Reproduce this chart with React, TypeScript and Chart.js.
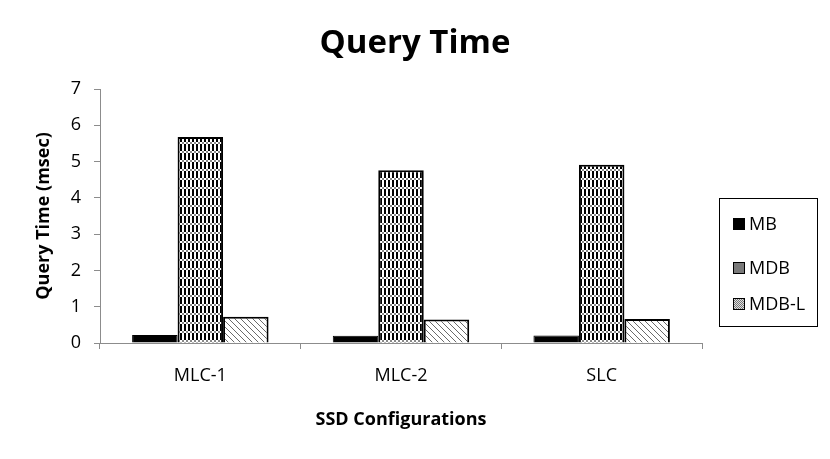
import { useEffect, useRef } from "react";
import { Chart, registerables } from "chart.js";
Chart.register(...registerables);

const categories = ["MLC-1", "MLC-2", "SLC"];
const seriesNames = ["MB", "MDB", "MDB-L"];
const mbValues = [0.22, 0.2, 0.21];
const mdbValues = [5.68, 4.76, 4.91];
const mdblValues = [0.72, 0.65, 0.66];
const yMin = 0;
const yMax = 7;
const yStep = 1;
const chartTitle = "Query Time";
const xTitle = "SSD Configurations";
const yTitle = "Query Time (msec)";

const FONT = "'Open Sans', 'DejaVu Sans', sans-serif";

function makeMdbPattern(ctx: CanvasRenderingContext2D) {
  const c = document.createElement("canvas");
  c.width = 4;
  c.height = 9;
  const g = c.getContext("2d")!;
  g.fillStyle = "#ffffff";
  g.fillRect(0, 0, 4, 9);
  g.fillStyle = "#000000";
  g.fillRect(0, 0, 2, 7);
  g.fillStyle = "#888888";
  g.fillRect(2, 7, 2, 2);
  return ctx.createPattern(c, "repeat")!;
}

function makeMdblPattern(ctx: CanvasRenderingContext2D) {
  const c = document.createElement("canvas");
  c.width = 6;
  c.height = 6;
  const g = c.getContext("2d")!;
  g.fillStyle = "#ffffff";
  g.fillRect(0, 0, 6, 6);
  g.strokeStyle = "#6a6a6a";
  g.lineWidth = 1;
  g.beginPath();
  g.moveTo(-1, -1);
  g.lineTo(7, 7);
  g.moveTo(-4, 2);
  g.lineTo(4, 10);
  g.moveTo(2, -4);
  g.lineTo(10, 4);
  g.stroke();
  return ctx.createPattern(c, "repeat")!;
}

function makeDotPattern(ctx: CanvasRenderingContext2D) {
  const c = document.createElement("canvas");
  c.width = 2;
  c.height = 2;
  const g = c.getContext("2d")!;
  g.fillStyle = "#e0e0e0";
  g.fillRect(0, 0, 2, 2);
  g.fillStyle = "#777777";
  g.fillRect(0, 0, 1, 1);
  g.fillRect(1, 1, 1, 1);
  return ctx.createPattern(c, "repeat")!;
}

export default function App() {
  const ref = useRef<HTMLCanvasElement | null>(null);

  useEffect(() => {
    const canvas = ref.current!;
    const ctx = canvas.getContext("2d")!;
    const mdbPat = makeMdbPattern(ctx);
    const mdblPat = makeMdblPattern(ctx);
    const dotPat = makeDotPattern(ctx);

    const decor = {
      id: "decor",
      afterDraw(chart: any) {
        const c = chart.ctx as CanvasRenderingContext2D;
        const area = chart.chartArea;
        c.save();
        // title
        c.fillStyle = "#000";
        c.font = `bold 33px ${FONT}`;
        c.textAlign = "center";
        c.textBaseline = "middle";
        c.fillText(chartTitle, 415, 44);
        // x title
        c.font = `bold 18px ${FONT}`;
        c.fillText(xTitle, (area.left + area.right) / 2, 420);
        // y title
        c.save();
        c.translate(44, (area.top + area.bottom) / 2);
        c.rotate(-Math.PI / 2);
        c.fillText(yTitle, 0, 0);
        c.restore();
        // legend
        const bx = 719, by = 198, bw = 98, bh = 128;
        c.strokeStyle = "#000";
        c.lineWidth = 1;
        c.strokeRect(bx + 0.5, by + 0.5, bw, bh);
        const ys = [224, 268, 304];
        const fills: any[] = ["#000000", "#7a7a7a", dotPat];
        c.font = `18px ${FONT}`;
        c.textAlign = "left";
        seriesNames.forEach((n, i) => {
          const y = ys[i];
          c.fillStyle = fills[i];
          c.fillRect(733, y - 6, 12, 12);
          c.strokeStyle = "#000";
          c.lineWidth = 1;
          c.strokeRect(733.5, y - 5.5, 11, 11);
          c.fillStyle = "#000";
          c.fillText(n, 749, y + 1);
        });
        c.restore();
      },
    };

    const chart = new Chart(canvas, {
      type: "bar",
      data: {
        labels: categories,
        datasets: [
          {
            label: seriesNames[0],
            data: mbValues,
            backgroundColor: "#000000",
            borderColor: "#000000",
            borderWidth: 1,
          },
          {
            label: seriesNames[1],
            data: mdbValues,
            backgroundColor: mdbPat as any,
            borderColor: "#000000",
            borderWidth: 2,
          },
          {
            label: seriesNames[2],
            data: mdblValues,
            backgroundColor: mdblPat as any,
            borderColor: "#000000",
            borderWidth: 2,
          },
        ],
      },
      options: {
        responsive: false,
        animation: false,
        datasets: {
          bar: { categoryPercentage: 0.68, barPercentage: 1 },
        },
        layout: { padding: { top: 89, left: 0, right: 128, bottom: 0 } },
        plugins: {
          legend: { display: false },
          title: { display: false },
          tooltip: { enabled: false },
        },
        scales: {
          x: {
            afterFit: (s: any) => {
              s.height = 116;
            },
            grid: {
              display: true,
              drawOnChartArea: false,
              drawTicks: true,
              tickLength: 6,
              color: "#8c8c8c",
              offset: true,
            },
            border: { color: "#8c8c8c", width: 1 },
            ticks: {
              color: "#000",
              font: { family: FONT, size: 18 },
              padding: 16,
            },
          },
          y: {
            min: yMin,
            max: yMax,
            afterFit: (s: any) => {
              s.width = 100;
            },
            grid: {
              display: true,
              drawOnChartArea: false,
              drawTicks: true,
              tickLength: 6,
              color: "#8c8c8c",
            },
            border: { color: "#8c8c8c", width: 1 },
            ticks: {
              stepSize: yStep,
              color: "#000",
              font: { family: FONT, size: 18 },
              padding: 13,
            },
          },
        },
      },
      plugins: [decor],
    });
    return () => chart.destroy();
  }, []);

  return (
    <div style={{ position: "absolute", left: 0, top: 0, width: 830, height: 459, background: "#fff" }}>
      <canvas ref={ref} width={830} height={459} />
    </div>
  );
}
